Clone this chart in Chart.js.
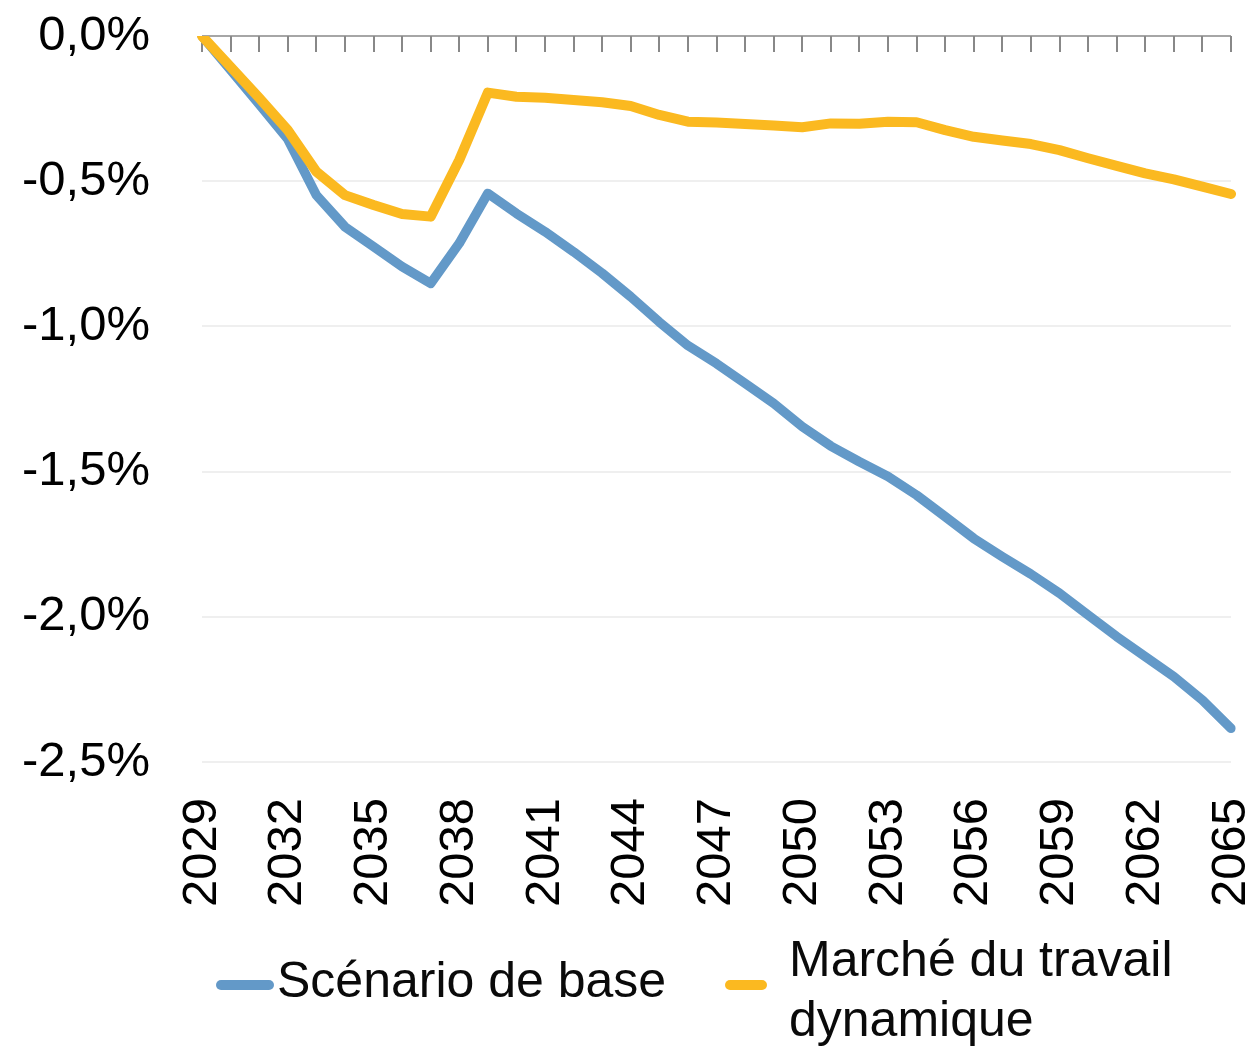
<!DOCTYPE html>
<html>
<head>
<meta charset="utf-8">
<script src="https://cdn.jsdelivr.net/npm/chart.js@4.4.1/dist/chart.umd.min.js"></script>
<style>
  html, body { margin: 0; padding: 0; background: #fff; }
  #wrap { position: relative; width: 1256px; height: 1048px; overflow: hidden; }
  #c { position: absolute; left: 0; top: 0; }
  .sw { position: absolute; height: 10px; border-radius: 5px; }
  .lt { position: absolute; font-family: 'Liberation Sans', Arial, sans-serif; font-size: 50px; color: #0a0a0a; white-space: nowrap; }
</style>
</head>
<body>
<div id="wrap">
  <canvas id="c" width="1256" height="1048"></canvas>
  <div class="sw" style="left:216px; top:980px; width:58px; background:#6399C8;"></div>
  <div class="lt" style="left:277px; top:951px; line-height:58px;">Scénario de base</div>
  <div class="sw" style="left:725px; top:980px; width:42px; background:#FBB920;"></div>
  <div class="lt" style="left:789px; top:929px; line-height:60px;">Marché du travail<br>dynamique</div>
</div>
<script>
const years = [2029,2030,2031,2032,2033,2034,2035,2036,2037,2038,2039,2040,2041,2042,2043,2044,2045,2046,2047,2048,2049,2050,2051,2052,2053,2054,2055,2056,2057,2058,2059,2060,2061,2062,2063,2064,2065];
const scenarioBase = [0,-0.117,-0.235,-0.355,-0.548,-0.657,-0.725,-0.794,-0.852,-0.714,-0.542,-0.611,-0.674,-0.743,-0.817,-0.898,-0.985,-1.066,-1.128,-1.196,-1.265,-1.345,-1.412,-1.466,-1.517,-1.581,-1.655,-1.730,-1.793,-1.853,-1.919,-1.994,-2.068,-2.137,-2.206,-2.287,-2.384];
const marcheDynamique = [0,-0.106,-0.213,-0.324,-0.467,-0.548,-0.582,-0.613,-0.622,-0.427,-0.195,-0.209,-0.213,-0.220,-0.228,-0.241,-0.272,-0.295,-0.298,-0.303,-0.308,-0.314,-0.301,-0.302,-0.295,-0.297,-0.324,-0.347,-0.360,-0.372,-0.393,-0.421,-0.447,-0.473,-0.494,-0.519,-0.544];
const seriesNames = ['Scénario de base', 'Marché du travail dynamique'];
const yTicks = [0, -0.5, -1.0, -1.5, -2.0, -2.5];

Chart.defaults.font.family = "'Liberation Sans', Arial, sans-serif";
Chart.defaults.font.size = 49;
Chart.defaults.color = '#000';

const topAxis = {
  id: 'topAxis',
  beforeDatasetsDraw(chart) {
    const x = chart.scales.x, y = chart.scales.y, ctx = chart.ctx;
    const y0 = y.getPixelForValue(0);
    ctx.save();
    ctx.strokeStyle = '#a6a6a6';
    ctx.lineWidth = 2;
    ctx.beginPath();
    ctx.moveTo(x.getPixelForValue(0), y0);
    ctx.lineTo(x.getPixelForValue(years.length - 1), y0);
    ctx.stroke();
    ctx.strokeStyle = '#888';
    ctx.beginPath();
    for (let i = 0; i < years.length; i++) {
      const px = Math.round(x.getPixelForValue(i));
      ctx.moveTo(px, y0);
      ctx.lineTo(px, y0 + 16);
    }
    ctx.stroke();
    ctx.restore();
  }
};

new Chart(document.getElementById('c'), {
  type: 'line',
  data: {
    labels: years.map(String),
    datasets: [
      { label: seriesNames[0], data: scenarioBase, borderColor: '#6399C8', backgroundColor: '#6399C8', borderWidth: 9.5, pointRadius: 0, tension: 0, borderCapStyle: 'round', borderJoinStyle: 'round', order: 2 },
      { label: seriesNames[1], data: marcheDynamique, borderColor: '#FBB920', backgroundColor: '#FBB920', borderWidth: 10, pointRadius: 0, tension: 0, borderCapStyle: 'round', borderJoinStyle: 'round', order: 1 }
    ]
  },
  options: {
    responsive: false,
    animation: false,
    devicePixelRatio: 1,
    layout: { padding: { top: 36, right: 25, left: 0, bottom: 136 } },
    plugins: { legend: { display: false }, tooltip: { enabled: false } },
    scales: {
      x: {
        type: 'category',
        offset: false,
        grid: { display: false, drawTicks: false },
        border: { display: false },
        ticks: {
          autoSkip: false, maxRotation: 90, minRotation: 90, padding: 36,
          callback: function(v, i) { return i % 3 === 0 ? years[i] : ''; }
        },
        afterFit(scale) { scale.height = 150; scale.paddingLeft = 0; scale.paddingRight = 0; scale.paddingTop = 0; scale.paddingBottom = 0; }
      },
      y: {
        min: -2.5, max: 0,
        afterBuildTicks(scale) { scale.ticks = yTicks.map(v => ({ value: v })); },
        grid: {
          drawTicks: false, lineWidth: 2,
          color: ctx => (ctx.tick && ctx.tick.value === 0) ? 'rgba(0,0,0,0)' : '#efefef'
        },
        border: { display: false },
        ticks: {
          padding: 52,
          callback: v => (Math.abs(v) < 1e-9 ? '0,0' : v.toFixed(1).replace('.', ',')) + '%'
        },
        afterFit(scale) { scale.width = 202; scale.paddingTop = 0; scale.paddingBottom = 0; scale.paddingLeft = 0; scale.paddingRight = 0; }
      }
    }
  },
  plugins: [topAxis]
});
</script>
</body>
</html>
